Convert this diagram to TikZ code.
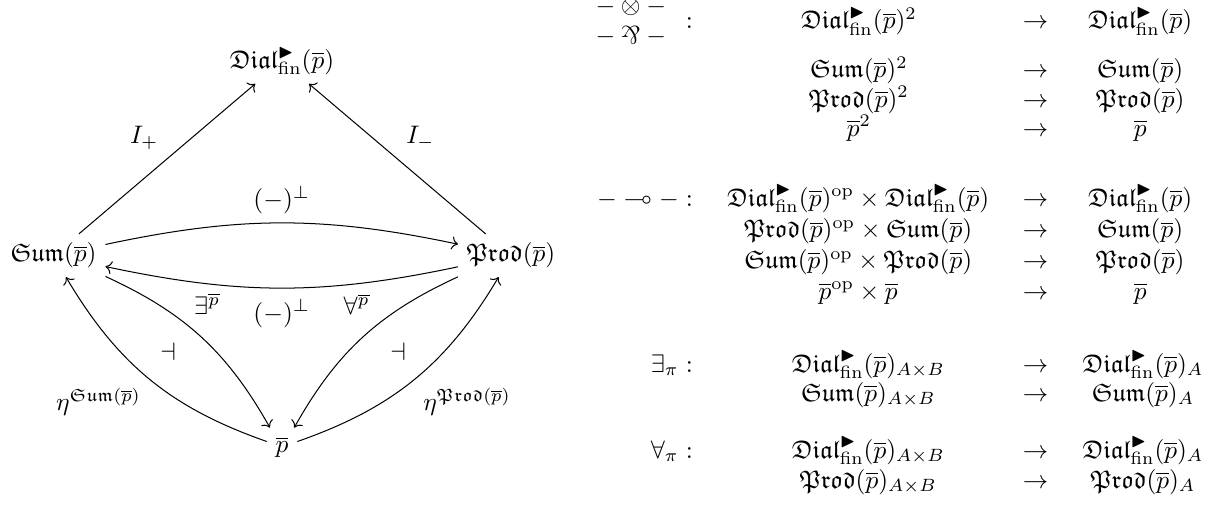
\documentclass[tikz,border=0pt]{standalone}
\usepackage{amsmath, amssymb}
\usepackage{graphicx}
\usetikzlibrary{arrows.meta}

\newcommand{\pb}{\overline{p}}
\newcommand{\Dialf}{\mathfrak{Dial}^{\blacktriangleright}_{\mathrm{fin}}}
\newcommand{\Sumf}{\mathfrak{Sum}}
\newcommand{\Prodf}{\mathfrak{Prod}}
\newcommand{\parrsym}{\mathbin{\rotatebox[origin=c]{180}{$\&$}}}

\begin{document}
\begin{tikzpicture}[
  arr/.style={-{Computer Modern Rightarrow}},
  cell/.style={anchor=base},
  lab/.style={anchor=base east},
]
  \useasboundingbox (0,0) rectangle (17.0,7.087);

  % the four categories
  \node (dial) at (3.911, 6.241) {$\Dialf(\pb)$};
  \node (sum)  at (0.742, 3.544) {$\Sumf(\pb)$};
  \node (prod) at (7.087, 3.544) {$\Prodf(\pb)$};
  \node (pb)   at (3.911, 0.888) {$\pb$};

  \draw[arr] (sum) -- node[above left] (iplus) {$I_+$} (dial);
  \draw[arr] (prod) -- node[above right] (iminus) {$I_-$} (dial);
  \draw[arr] (sum) to[bend left=12] node[above] (negtop) {$(-)^\perp$} (prod);
  \draw[arr] (prod) to[bend left=12] node[below=1pt] (negbot) {$(-)^\perp$} (sum);
  \draw[arr] (sum) to[bend left=18] node[pos=0.4, above right] (exists) {$\exists^{\pb}$} (pb);
  \draw[arr] (prod) to[bend right=18] node[pos=0.4, above left] (forall) {$\forall^{\pb}$} (pb);
  \draw[arr] (pb) to[bend left=20] node[below left] (etasum) {$\eta^{\Sumf(\pb)}$} (sum);
  \draw[arr] (pb) to[bend right=20] node[below right] (etaprod) {$\eta^{\Prodf(\pb)}$} (prod);

  \node (adjl) at (2.330, 2.205) {$\dashv$};
  \node (adjr) at (5.520, 2.205) {$\dashv$};

  % tensor and par
  \node[lab]  (ltens) at (9.731, 6.685) {$\begin{array}{c} -\otimes- \\ -\parrsym- \end{array} :$};
  \node[cell] (t1d) at (11.91, 6.685) {$\Dialf(\pb)^2$};
  \node[cell] (t1a) at (14.36, 6.685) {$\to$};
  \node[cell] (t1c) at (15.81, 6.685) {$\Dialf(\pb)$};
  \node[cell] (t2d) at (11.91, 6.006) {$\Sumf(\pb)^2$};
  \node[cell] (t2a) at (14.36, 6.006) {$\to$};
  \node[cell] (t2c) at (15.81, 6.006) {$\Sumf(\pb)$};
  \node[cell] (t3d) at (11.91, 5.603) {$\Prodf(\pb)^2$};
  \node[cell] (t3a) at (14.36, 5.603) {$\to$};
  \node[cell] (t3c) at (15.81, 5.603) {$\Prodf(\pb)$};
  \node[cell] (t4d) at (11.91, 5.201) {$\pb^2$};
  \node[cell] (t4a) at (14.36, 5.201) {$\to$};
  \node[cell] (t4c) at (15.81, 5.201) {$\pb$};

  % linear implication
  \node[lab]  (limp) at (9.731, 4.230) {$- \multimap - :$};
  \node[cell] (m1d) at (11.90, 4.230) {$\Dialf(\pb)^{\mathrm{op}} \times \Dialf(\pb)$};
  \node[cell] (m1a) at (14.36, 4.230) {$\to$};
  \node[cell] (m1c) at (15.81, 4.230) {$\Dialf(\pb)$};
  \node[cell] (m2d) at (11.90, 3.790) {$\Prodf(\pb)^{\mathrm{op}} \times \Sumf(\pb)$};
  \node[cell] (m2a) at (14.36, 3.790) {$\to$};
  \node[cell] (m2c) at (15.81, 3.790) {$\Sumf(\pb)$};
  \node[cell] (m3d) at (11.90, 3.365) {$\Sumf(\pb)^{\mathrm{op}} \times \Prodf(\pb)$};
  \node[cell] (m3a) at (14.36, 3.365) {$\to$};
  \node[cell] (m3c) at (15.81, 3.365) {$\Prodf(\pb)$};
  \node[cell] (m4d) at (11.90, 2.940) {$\pb^{\mathrm{op}} \times \pb$};
  \node[cell] (m4a) at (14.36, 2.940) {$\to$};
  \node[cell] (m4c) at (15.81, 2.940) {$\pb$};

  % quantifiers
  \node[lab]  (lex) at (9.731, 1.928) {$\exists_\pi :$};
  \node[cell] (e1d) at (12.04, 1.928) {$\Dialf(\pb)_{A\times B}$};
  \node[cell] (e1a) at (14.36, 1.928) {$\to$};
  \node[cell] (e1c) at (15.85, 1.928) {$\Dialf(\pb)_A$};
  \node[cell] (e2d) at (12.04, 1.526) {$\Sumf(\pb)_{A\times B}$};
  \node[cell] (e2a) at (14.36, 1.526) {$\to$};
  \node[cell] (e2c) at (15.85, 1.526) {$\Sumf(\pb)_A$};

  \node[lab]  (lall) at (9.731, 0.735) {$\forall_\pi :$};
  \node[cell] (a1d) at (12.04, 0.735) {$\Dialf(\pb)_{A\times B}$};
  \node[cell] (a1a) at (14.36, 0.735) {$\to$};
  \node[cell] (a1c) at (15.85, 0.735) {$\Dialf(\pb)_A$};
  \node[cell] (a2d) at (12.04, 0.319) {$\Prodf(\pb)_{A\times B}$};
  \node[cell] (a2a) at (14.36, 0.319) {$\to$};
  \node[cell] (a2c) at (15.85, 0.319) {$\Prodf(\pb)_A$};
\end{tikzpicture}
\end{document}
